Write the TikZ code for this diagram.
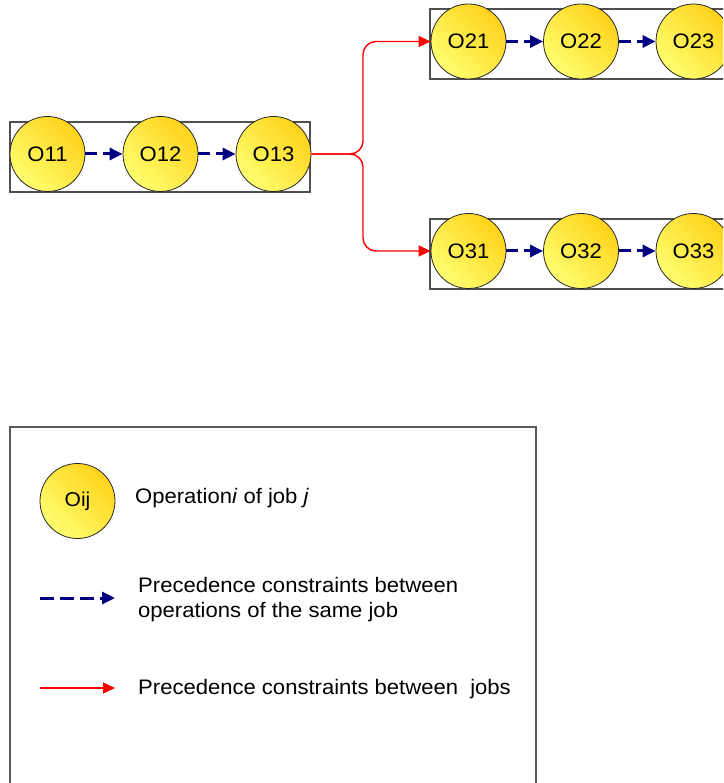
\documentclass[tikz,border=0pt]{standalone}
\usepackage{fontspec}
\setmainfont{Liberation Sans}
\newfontfamily\widesans[FakeStretch=1.05]{Liberation Sans}
\usetikzlibrary{arrows.meta,shadings}

\definecolor{opgold}{HTML}{FFD21A}
\definecolor{oplight}{HTML}{FFFF70}
\definecolor{seqblue}{HTML}{000080}
\definecolor{jobred}{HTML}{FF0000}
\definecolor{framegray}{HTML}{505050}

\tikzset{
  op/.style={circle, draw=black!85, line width=0.8pt, minimum size=75pt, inner sep=0pt,
    top color=opgold, bottom color=oplight, shading angle=-45,
    font=\widesans\fontsize{21}{25}\selectfont},
  jobframe/.style={draw=framegray, line width=1.2pt},
  legendframe/.style={draw=black!65, line width=1.4pt},
  seqarrow/.style={seqblue, line width=3pt, dash pattern=on 12pt off 6pt,
    -{Triangle[length=13pt,width=12pt]}},
  jobarrow/.style={jobred, line width=1.4pt, rounded corners=13pt,
    -{Triangle[length=12pt,width=11pt]}},
  legendtext/.style={anchor=base west, inner sep=0pt, font=\widesans\fontsize{21}{25}\selectfont},
}

\begin{document}
\begin{tikzpicture}[x=1pt,y=1pt]
  \useasboundingbox (0,0) rectangle (723,-783);
  \clip (0,0) rectangle (723,-783);

  % job frames
  \draw[jobframe] (10,-122) rectangle (310,-192);
  \draw[jobframe] (430,-9) rectangle (760,-79);
  \draw[jobframe] (430,-219) rectangle (760,-289);

  % operations of job 1
  \node[op] (O11) at (47.5,-154) {O11};
  \node[op] (O12) at (160.5,-154) {O12};
  \node[op] (O13) at (273.5,-154) {O13};
  % operations of job 2
  \node[op] (O21) at (468.5,-41.5) {O21};
  \node[op] (O22) at (581,-41.5) {O22};
  \node[op] (O23) at (693.5,-41.5) {O23};
  % operations of job 3
  \node[op] (O31) at (468.5,-251) {O31};
  \node[op] (O32) at (581,-251) {O32};
  \node[op] (O33) at (693.5,-251) {O33};

  % precedence within each job
  \draw[seqarrow] (O11) -- (O12);
  \draw[seqarrow] (O12) -- (O13);
  \draw[seqarrow] (O21) -- (O22);
  \draw[seqarrow] (O22) -- (O23);
  \draw[seqarrow] (O31) -- (O32);
  \draw[seqarrow] (O32) -- (O33);

  % precedence between jobs
  \coordinate (fork) at (363,-154);
  \draw[jobarrow] (O13) -- (fork) |- (O21);
  \draw[jobarrow] (O13) -- (fork) |- (O31);

  % legend
  \draw[legendframe] (10,-427) rectangle (536,-800);
  \node[op, font=\widesans\fontsize{20}{24}\selectfont] (lgop) at (77.5,-501) {Oij};
  \node[legendtext] (lgoptext) at (135,-503) {Operation\textit{i} of job \textit{j}};

  \coordinate (lgseqa) at (40,-598);
  \coordinate (lgseqb) at (115,-598);
  \draw[seqarrow, dash pattern=on 14pt off 6pt] (lgseqa) -- (lgseqb);
  \node[legendtext] (lgseqtext1) at (138,-592) {Precedence constraints between};
  \node[legendtext] (lgseqtext2) at (138,-617) {operations of the same job};

  \coordinate (lgjoba) at (40,-688);
  \coordinate (lgjobb) at (115,-688);
  \draw[jobarrow] (lgjoba) -- (lgjobb);
  \node[legendtext] (lgjobtext) at (138,-694) {Precedence constraints between~ jobs};
\end{tikzpicture}
\end{document}
